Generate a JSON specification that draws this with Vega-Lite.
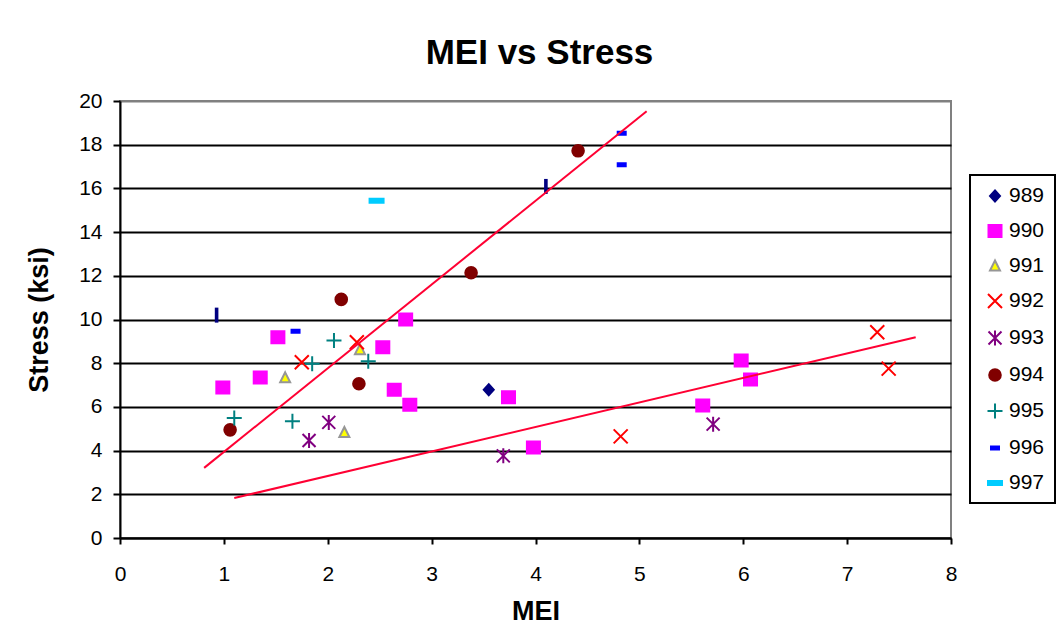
{
  "$schema": "https://vega.github.io/schema/vega-lite/v6.json",
  "width": 831,
  "height": 437,
  "autosize": {"type": "none"},
  "padding": {"left": 120, "top": 101, "right": 106, "bottom": 101},
  "background": "white",
  "title": {"text": "MEI vs Stress", "fontSize": 35, "font": "Liberation Sans", "fontWeight": "bold", "color": "black", "anchor": "middle", "offset": 19, "dx": 4},
  "config": {
    "view": {"stroke": "#808080", "strokeWidth": 2},
    "axis": {"labelFont": "Liberation Sans", "titleFont": "Liberation Sans", "labelColor": "black", "titleColor": "black", "domainColor": "black", "domainWidth": 2, "tickColor": "black", "tickWidth": 2, "labelFontSize": 21, "titleFontSize": 27, "titleFontWeight": "bold", "labelFlush": false, "labelOverlap": false},
    "legend": {"orient": "none", "legendX": 850, "legendY": 74, "strokeColor": "black", "strokeWidth": 2, "padding": 10, "rowPadding": 14, "symbolSize": 400, "symbolStrokeWidth": 2, "symbolOffset": 4, "labelOffset": 3, "labelFont": "Liberation Sans", "labelFontSize": 21, "labelColor": "black", "fillColor": "white"}
  },
  "encoding": {
    "x": {"field": "x", "type": "quantitative", "scale": {"domain": [0, 8], "nice": false, "zero": false},
      "axis": {"values": [0, 1, 2, 3, 4, 5, 6, 7, 8], "grid": false, "tickSize": 6, "labelPadding": 19, "title": "MEI", "titlePadding": 14}},
    "y": {"field": "y", "type": "quantitative", "scale": {"domain": [0, 20], "nice": false},
      "axis": {"values": [0, 2, 4, 6, 8, 10, 12, 14, 16, 18, 20], "grid": true, "gridWidth": 2, "gridColor": {"condition": {"test": "datum.value == 20", "value": "#808080"}, "value": "black"}, "tickSize": 7, "labelPadding": 11, "title": "Stress (ksi)", "titlePadding": 25}}
  },
  "layer": [
    {
      "data": {"values": [
        {"s": "989", "x": 3.55, "y": 6.79},
        {"s": "990", "x": 0.99, "y": 6.89},
        {"s": "990", "x": 1.35, "y": 7.35},
        {"s": "990", "x": 1.52, "y": 9.19},
        {"s": "990", "x": 2.53, "y": 8.73},
        {"s": "990", "x": 2.64, "y": 6.79},
        {"s": "990", "x": 2.75, "y": 10.0},
        {"s": "990", "x": 2.79, "y": 6.10},
        {"s": "990", "x": 3.74, "y": 6.44},
        {"s": "990", "x": 3.98, "y": 4.14},
        {"s": "990", "x": 5.61, "y": 6.06},
        {"s": "990", "x": 5.98, "y": 8.12},
        {"s": "990", "x": 6.07, "y": 7.25},
        {"s": "991", "x": 1.59, "y": 7.33},
        {"s": "991", "x": 2.31, "y": 8.62},
        {"s": "991", "x": 2.16, "y": 4.83},
        {"s": "992", "x": 1.75, "y": 8.04},
        {"s": "992", "x": 2.28, "y": 8.96},
        {"s": "992", "x": 4.82, "y": 4.65},
        {"s": "992", "x": 7.29, "y": 9.42},
        {"s": "992", "x": 7.40, "y": 7.75},
        {"s": "993", "x": 1.82, "y": 4.46},
        {"s": "993", "x": 2.01, "y": 5.29},
        {"s": "993", "x": 3.69, "y": 3.76},
        {"s": "993", "x": 5.71, "y": 5.21},
        {"s": "994", "x": 1.06, "y": 4.95},
        {"s": "994", "x": 2.13, "y": 10.92},
        {"s": "994", "x": 2.30, "y": 7.06},
        {"s": "994", "x": 3.38, "y": 12.14},
        {"s": "994", "x": 4.41, "y": 17.72},
        {"s": "995", "x": 1.10, "y": 5.49},
        {"s": "995", "x": 1.66, "y": 5.34},
        {"s": "995", "x": 1.85, "y": 7.97},
        {"s": "995", "x": 2.06, "y": 9.04},
        {"s": "995", "x": 2.39, "y": 8.09},
        {"s": "996", "x": 1.69, "y": 9.46},
        {"s": "996", "x": 4.83, "y": 18.52},
        {"s": "996", "x": 4.83, "y": 17.08},
        {"s": "997", "x": 2.47, "y": 15.43},
        {"s": "998", "x": 0.93, "y": 10.2},
        {"s": "998", "x": 4.10, "y": 16.09}
      ]},
      "mark": {"type": "point", "opacity": 1, "strokeWidth": 2, "size": 400},
      "encoding": {
        "shape": {"field": "s", "type": "nominal",
          "scale": {"domain": ["989", "990", "991", "992", "993", "994", "995", "996", "997", "998"],
            "range": ["M0,-0.55L0.5,0L0,0.55L-0.5,0Z", "M-0.65,-0.6L0.65,-0.6L0.65,0.6L-0.65,0.6Z", "M0,-0.55L0.5,0.45L-0.5,0.45Z", "M-0.7,-0.7L0.7,0.7M-0.7,0.7L0.7,-0.7", "M-0.65,-0.65L0.65,0.65M-0.65,0.65L0.65,-0.65M0,-0.75L0,0.75", "M-0.58,0A0.58,0.58,0,1,0,0.58,0A0.58,0.58,0,1,0,-0.58,0Z", "M-0.75,0L0.75,0M0,-0.75L0,0.75", "M-0.4,-0.15L0.4,-0.15L0.4,0.15L-0.4,0.15Z", "M-0.7,-0.2L0.7,-0.2L0.7,0.2L-0.7,0.2Z", "M-0.08,-0.65L0.08,-0.65L0.08,0.65L-0.08,0.65Z"]},
          "legend": {"title": null, "values": ["989", "990", "991", "992", "993", "994", "995", "996", "997"]}},
        "fill": {"field": "s", "type": "nominal",
          "scale": {"domain": ["989", "990", "991", "992", "993", "994", "995", "996", "997", "998"],
            "range": ["#000080", "#FF00FF", "#FFFF00", "transparent", "transparent", "#800000", "transparent", "#0000FF", "#00CCFF", "#000080"]},
          "legend": {"title": null, "values": ["989", "990", "991", "992", "993", "994", "995", "996", "997"]}},
        "stroke": {"field": "s", "type": "nominal",
          "scale": {"domain": ["989", "990", "991", "992", "993", "994", "995", "996", "997", "998"],
            "range": ["#000080", "#FF00FF", "#969696", "#FF0000", "#800080", "#800000", "#008080", "#0000FF", "#00CCFF", "#000080"]},
          "legend": {"title": null, "values": ["989", "990", "991", "992", "993", "994", "995", "996", "997"]}}
      }
    },
    {
      "data": {"values": [
        {"line": "a", "x": 0.81, "y": 3.21},
        {"line": "a", "x": 5.07, "y": 19.53},
        {"line": "b", "x": 1.10, "y": 1.83},
        {"line": "b", "x": 7.66, "y": 9.19}
      ]},
      "mark": {"type": "line", "color": "#FF0033", "strokeWidth": 2},
      "encoding": {"detail": {"field": "line", "type": "nominal"}}
    }
  ]
}
